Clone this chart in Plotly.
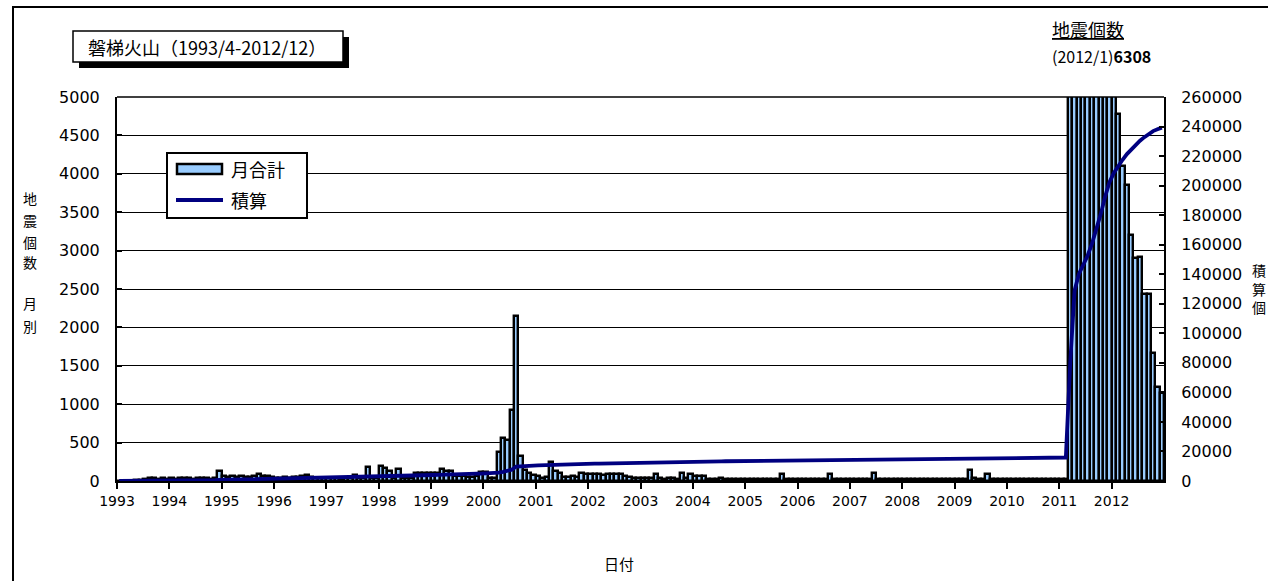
import plotly.graph_objects as go
import numpy as np

# ---------------- data (monthly earthquake counts, Jan..Dec of each year) ----------------
years = list(range(1993, 2013))
year_labels = [str(y) for y in years]

c1993 = [0, 0, 0, 5, 10, 15, 30, 35, 35, 30, 35, 30]
c1994 = [35, 30, 35, 40, 35, 30, 35, 40, 35, 30, 35, 128]
c1995 = [60, 55, 60, 55, 60, 50, 55, 60, 85, 70, 60, 55]
c1996 = [45, 40, 50, 45, 55, 50, 60, 80, 55, 45, 40, 45]
c1997 = [40, 35, 40, 30, 35, 40, 80, 45, 40, 185, 45, 40]
c1998 = [200, 170, 130, 45, 150, 40, 45, 40, 100, 100, 105, 100]
c1999 = [100, 100, 158, 135, 130, 70, 65, 60, 55, 50, 60, 123]
c2000 = [120, 45, 40, 380, 565, 540, 930, 2145, 320, 145, 110, 80]
c2001 = [60, 45, 50, 245, 128, 100, 55, 50, 60, 55, 110, 90]
c2002 = [90, 85, 95, 80, 90, 85, 95, 90, 60, 50, 45, 40]
c2003 = [35, 40, 40, 85, 35, 30, 40, 35, 30, 100, 35, 90]
c2004 = [60, 70, 65, 30, 25, 30, 35, 30, 25, 30, 25, 30]
c2005 = [25, 30, 25, 30, 25, 30, 25, 30, 90, 30, 25, 30]
c2006 = [25, 30, 25, 30, 25, 30, 25, 90, 30, 25, 30, 25]
c2007 = [30, 25, 30, 25, 30, 100, 30, 25, 30, 25, 30, 25]
c2008 = [30, 25, 30, 25, 30, 25, 30, 25, 30, 25, 30, 25]
c2009 = [30, 25, 30, 140, 35, 30, 30, 95, 30, 25, 30, 25]
c2010 = [30, 25, 30, 25, 30, 25, 30, 25, 30, 25, 30, 25]
c2011 = [30, 25, 64000, 49000, 11300, 6000, 6500, 8000, 9000, 11000, 11800, 9800]
c2012 = [6308, 4780, 4100, 3860, 3200, 2910, 2920, 2430, 2430, 1670, 1220, 1140]

monthly = (c1993 + c1994 + c1995 + c1996 + c1997 + c1998 + c1999 + c2000 + c2001 + c2002 +
           c2003 + c2004 + c2005 + c2006 + c2007 + c2008 + c2009 + c2010 + c2011 + c2012)
month_x = [y + (m + 0.5) / 12 for y in years for m in range(12)]
cumulative = np.cumsum(monthly)

# ---------------- layout geometry helpers (pixel -> paper) ----------------
W, H = 1268, 581
L, R, T, B = 117, 1164, 97, 481


def px(x):
    return (x - L) / (R - L)


def py(y):
    return (B - y) / (B - T)


JP = "Noto Sans CJK JP"
NUM = "DejaVu Sans"

fig = go.Figure()
fig.add_trace(go.Bar(
    x=month_x, y=monthly, width=1 / 12, name="月合計",
    marker=dict(color="#99CCFF", line=dict(color="black", width=2.4)),
    showlegend=False,
))
fig.add_trace(go.Scatter(
    x=month_x, y=cumulative, yaxis="y2", mode="lines", name="積算",
    line=dict(color="#000080", width=3.8), showlegend=False,
))

shapes = [
    # outer frame
    dict(type="rect", xref="paper", yref="paper", x0=px(13), y0=py(7), x1=px(1300), y1=py(620),
         line=dict(color="black", width=2), fillcolor="rgba(0,0,0,0)", layer="below"),
    # top border of plot
    dict(type="line", xref="paper", yref="paper", x0=0, x1=1, y0=1, y1=1,
         line=dict(color="black", width=1.5)),
    # title box shadow + box
    dict(type="rect", xref="paper", yref="paper", x0=px(79), y0=py(37), x1=px(349), y1=py(68),
         line=dict(width=0), fillcolor="black"),
    dict(type="rect", xref="paper", yref="paper", x0=px(73), y0=py(31), x1=px(343), y1=py(62),
         line=dict(color="black", width=1.5), fillcolor="white"),
    # legend box
    dict(type="rect", xref="paper", yref="paper", x0=px(167), y0=py(153), x1=px(307), y1=py(218),
         line=dict(color="black", width=2), fillcolor="white"),
    dict(type="rect", xref="paper", yref="paper", x0=px(177), y0=py(164), x1=px(222), y1=py(174),
         line=dict(color="black", width=2.5), fillcolor="#99CCFF"),
    dict(type="line", xref="paper", yref="paper", x0=px(176), y0=py(200), x1=px(223), y1=py(200),
         line=dict(color="#000080", width=3.8)),
]

annotations = [
    dict(text="磐梯火山（1993/4-2012/12）", x=px(207), y=py(47), font=dict(family=JP, size=18, color="black")),
    dict(text="月合計", x=px(229), y=py(169), xanchor="left", font=dict(family=JP, size=18, color="black")),
    dict(text="積算", x=px(229), y=py(200), xanchor="left", font=dict(family=JP, size=18, color="black")),
    dict(text="<u>地震個数</u>", x=px(1050), y=py(29), xanchor="left", font=dict(family=JP, size=18, color="black")),
    dict(text="(2012/1)<b>6308</b>", x=px(1050), y=py(56), xanchor="left", font=dict(family=JP, size=16, color="black")),
    dict(text="日付", x=px(619), y=py(563), font=dict(family=JP, size=15, color="black")),
]
for ch, yy in zip(["地", "震", "個", "数", "月", "別"], [198, 220, 242, 262, 303, 326]):
    annotations.append(dict(text=ch, x=px(30), y=py(yy), font=dict(family=JP, size=14, color="black")))
for ch, yy in zip(["積", "算", "個"], [270, 289, 307]):
    annotations.append(dict(text=ch, x=px(1259), y=py(yy), font=dict(family=JP, size=14, color="black")))
for a in annotations:
    a.update(xref="paper", yref="paper", showarrow=False, yanchor="middle")
    a.setdefault("xanchor", "center")

fig.update_layout(
    width=W, height=H,
    margin=dict(l=L, r=W - R, t=T, b=H - B),
    paper_bgcolor="white", plot_bgcolor="white",
    bargap=0,
    xaxis=dict(range=[1993, 2013], tickvals=years, ticktext=year_labels,
               ticks="outside", ticklen=6, tickwidth=2, tickcolor="black",
               showline=True, linecolor="black", linewidth=2, showgrid=False, zeroline=False,
               tickfont=dict(family=NUM, size=14, color="black")),
    yaxis=dict(range=[0, 5000], dtick=500, showgrid=True, gridcolor="black", gridwidth=1,
               ticks="inside", ticklen=5, tickwidth=2, tickcolor="black",
               showline=True, linecolor="black", linewidth=2, zeroline=False,
               ticklabelstandoff=12,
               tickfont=dict(family=NUM, size=16, color="black")),
    yaxis2=dict(range=[0, 260000], dtick=20000, overlaying="y", side="right",
                showgrid=False, zeroline=False, tickformat="d",
                ticks="inside", ticklen=5, tickwidth=2, tickcolor="black",
                showline=True, linecolor="black", linewidth=2,
                ticklabelstandoff=12,
                tickfont=dict(family=NUM, size=16, color="black")),
    shapes=shapes, annotations=annotations,
)

fig.write_html("out.html")
